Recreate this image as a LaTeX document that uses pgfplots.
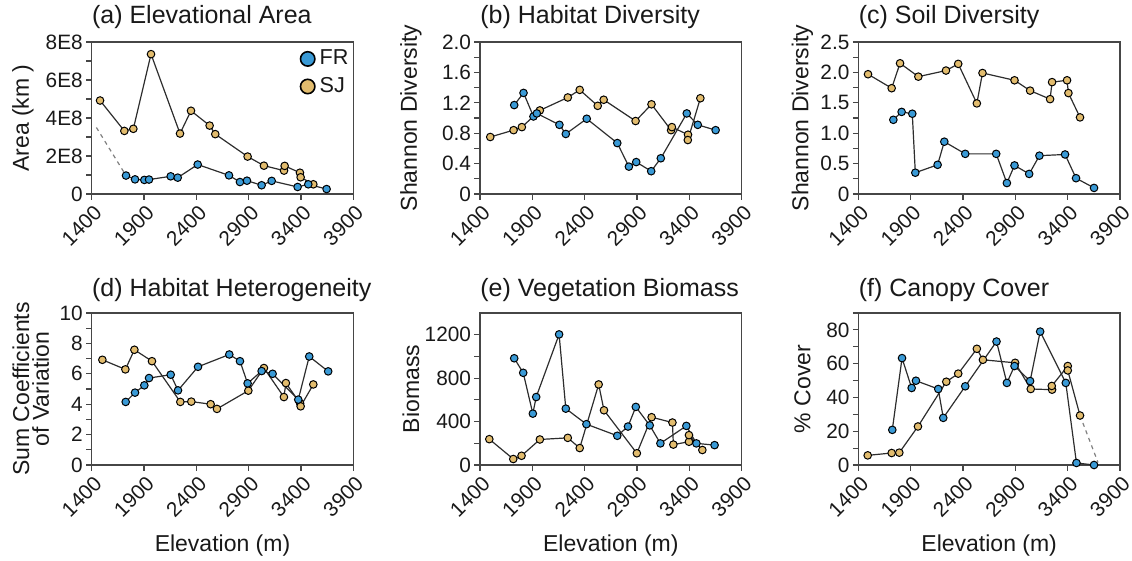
\documentclass[border=0pt]{standalone}
\usepackage{pgfplots}
\pgfplotsset{compat=1.18}
\usepackage{fontspec}
\setmainfont{Liberation Sans}
\definecolor{frblue}{RGB}{58,154,214}
\definecolor{sjtan}{RGB}{226,188,110}
\definecolor{axisgray}{RGB}{70,70,70}
\definecolor{linegray}{RGB}{45,45,45}
\newcommand\ticksize{\fontsize{10.4}{12}\selectfont}
\newcommand\labelsize{\fontsize{11.5}{13}\selectfont}
\newcommand\titlesize{\fontsize{12.5}{15}\selectfont}
\pgfplotsset{
  panel/.style={
    scale only axis, width=130.8pt, height=76pt,
    xmin=1400, xmax=3900,
    xtick={1400,1900,2400,2900,3400,3900},
    xticklabels={1400,1900,2400,2900,3400,3900},
    axis line style={draw=axisgray, line width=0.6pt},
    every tick/.style={draw=axisgray, line width=0.6pt},
    tick align=outside, xtick pos=lower, ytick pos=left,
    major tick length=2.8pt, minor tick length=2.8pt,
    xticklabel style={xshift=4pt, yshift=-4pt, rotate=45, anchor=east, font=\ticksize, inner sep=1pt},
    yticklabel style={font=\ticksize, inner sep=1.5pt},
    title style={at={(axis description cs:0,1)}, anchor=base west, yshift=3pt, font=\titlesize, inner sep=0pt},
    ylabel style={font=\labelsize, anchor=center},
    xlabel style={at={(axis description cs:0.5,-0.533)}, anchor=center, font=\labelsize},
    clip=false,
    scaled y ticks=false,
  },
  fr/.style={color=linegray, line width=0.6pt, mark=*, mark size=1.9pt,
    mark options={fill=frblue, draw=black, line width=0.5pt}},
  sj/.style={color=linegray, line width=0.6pt, mark=*, mark size=1.9pt,
    mark options={fill=sjtan, draw=black, line width=0.5pt}},
  ext/.style={color=gray, line width=0.6pt, dash pattern=on 2pt off 2pt},
}
\begin{document}
\begin{tikzpicture}
\path[use as bounding box] (0,0) rectangle (566pt,280.5pt);
\color[RGB]{25,25,25}
% (a)
\begin{axis}[panel, at={(45.85pt,183.5pt)}, anchor=south west,
  title={(a) Elevational Area},
  ymin=0, ymax=8e8,
  ytick={0,2e8,4e8,6e8,8e8}, yticklabels={0,2E8,4E8,6E8,8E8},
  minor ytick={1e8,3e8,5e8,7e8},
  ylabel={Area (km )},
  ylabel style={at={(axis description cs:-0.2625,0.5)}},
  legend style={at={(axis description cs:1,1)}, anchor=north east, xshift=0.8pt, yshift=-0.8pt,
    draw=none, fill=none, font=\fontsize{10.8}{12}\selectfont, inner sep=1pt, row sep=0.8pt,
    /tikz/every even column/.append style={column sep=3pt}},
  legend cell align=left]
\addlegendimage{legend image code/.code={\draw[fill=frblue, draw=black, line width=0.8pt] (0,0) circle (3.6pt);}}
\addlegendentry{FR}
\addlegendimage{legend image code/.code={\draw[fill=sjtan, draw=black, line width=0.8pt] (0,0) circle (3.6pt);}}
\addlegendentry{SJ}
\addplot[ext, forget plot] coordinates {(1445,3.5e8) (1728,0.97e8)};
\addplot[sj, forget plot] coordinates {(1480,4.92e8) (1712,3.32e8) (1798,3.43e8) (1967,7.36e8) (2244,3.18e8) (2349,4.38e8) (2527,3.60e8) (2581,3.15e8) (2890,1.97e8) (3046,1.49e8) (3238,1.23e8) (3244,1.48e8) (3390,1.12e8) (3397,0.88e8) (3518,0.51e8)};
\addplot[fr, forget plot] coordinates {(1728,0.97e8) (1814,0.77e8) (1903,0.74e8) (1948,0.76e8) (2155,0.93e8) (2222,0.86e8) (2413,1.55e8) (2712,0.98e8) (2817,0.63e8) (2884,0.70e8) (3024,0.46e8) (3120,0.69e8) (3368,0.37e8) (3470,0.51e8) (3645,0.26e8)};
\end{axis}
% (b)
\begin{axis}[panel, at={(240pt,183.5pt)}, anchor=south west,
  title={(b) Habitat Diversity},
  ymin=0, ymax=2,
  ytick={0,0.4,0.8,1.2,1.6,2.0}, yticklabels={0,0.4,0.8,1.2,1.6,2.0},
  minor ytick={0.2,0.6,1.0,1.4,1.8},
  ylabel={Shannon Diversity},
  ylabel style={at={(axis description cs:-0.264,0.5)}}]
\addplot[sj] coordinates {(1498,0.75) (1721,0.84) (1800,0.88) (1972,1.10) (2239,1.27) (2353,1.37) (2525,1.16) (2582,1.24) (2887,0.96) (3039,1.18) (3226,0.84) (3234,0.88) (3388,0.78) (3386,0.71) (3506,1.26)};
\addplot[fr] coordinates {(1727,1.17) (1816,1.33) (1911,1.02) (1943,1.06) (2159,0.91) (2220,0.79) (2420,0.99) (2712,0.67) (2823,0.36) (2893,0.42) (3036,0.30) (3128,0.47) (3376,1.06) (3481,0.91) (3652,0.84)};
\end{axis}
% (c)
\begin{axis}[panel, at={(429.2pt,183.5pt)}, anchor=south west,
  title={(c) Soil Diversity},
  ymin=0, ymax=2.5,
  ytick={0,0.5,1.0,1.5,2.0,2.5}, yticklabels={0,0.5,1.0,1.5,2.0,2.5},
  minor ytick={0.25,0.75,1.25,1.75,2.25},
  ylabel={Shannon Diversity},
  ylabel style={at={(axis description cs:-0.214,0.5)}}]
\addplot[sj] coordinates {(1492,1.97) (1718,1.74) (1798,2.15) (1973,1.93) (2237,2.03) (2354,2.14) (2532,1.49) (2586,1.99) (2892,1.87) (3041,1.70) (3232,1.56) (3251,1.84) (3394,1.87) (3407,1.66) (3518,1.26)};
\addplot[fr] coordinates {(1734,1.22) (1813,1.35) (1915,1.32) (1944,0.35) (2157,0.48) (2221,0.86) (2421,0.66) (2717,0.66) (2819,0.18) (2892,0.47) (3032,0.33) (3130,0.63) (3375,0.65) (3480,0.26) (3652,0.10)};
\end{axis}
% (d)
\begin{axis}[panel, at={(45.85pt,48pt)}, anchor=south west,
  title={(d) Habitat Heterogeneity},
  title style={yshift=-1pt},
  ymin=0, ymax=10,
  ytick={0,2,4,6,8,10}, yticklabels={0,2,4,6,8,10},
  minor ytick={1,3,5,7,9},
  ylabel={Sum Coefficients\\of Variation},
  ylabel style={at={(axis description cs:-0.233,0.5)}, align=center, font=\fontsize{11.5}{9.8}\selectfont},
  xlabel={Elevation (m)}]
\addplot[sj] coordinates {(1502,6.92) (1722,6.29) (1808,7.58) (1976,6.83) (2247,4.15) (2352,4.17) (2537,4.00) (2597,3.69) (2897,4.89) (3046,6.38) (3237,4.47) (3256,5.39) (3392,4.05) (3397,3.86) (3518,5.30)};
\addplot[fr] coordinates {(1725,4.15) (1814,4.76) (1903,5.24) (1948,5.72) (2155,5.94) (2225,4.91) (2416,6.46) (2715,7.27) (2817,6.83) (2890,5.37) (3024,6.18) (3129,6.00) (3374,4.30) (3479,7.14) (3660,6.16)};
\end{axis}
% (e)
\begin{axis}[panel, at={(240pt,48pt)}, anchor=south west,
  title={(e) Vegetation Biomass},
  title style={yshift=-1pt},
  ymin=0, ymax=1400,
  ytick={0,400,800,1200}, yticklabels={0,400,800,1200},
  minor ytick={200,600,1000},
  ylabel={Biomass},
  ylabel style={at={(axis description cs:-0.264,0.5)}},
  xlabel={Elevation (m)}]
\addplot[sj] coordinates {(1489,238) (1718,55) (1797,85) (1972,235) (2239,250) (2353,156) (2534,742) (2585,504) (2899,108) (3040,440) (3239,391) (3248,188) (3397,214) (3397,275) (3525,138)};
\addplot[fr] coordinates {(1727,983) (1813,849) (1905,473) (1937,626) (2156,1203) (2220,519) (2417,376) (2712,269) (2814,354) (2889,535) (3022,365) (3124,199) (3372,360) (3468,199) (3642,183)};
\end{axis}
% (f)
\begin{axis}[panel, at={(429.2pt,48pt)}, anchor=south west,
  title={(f) Canopy Cover},
  title style={yshift=-1pt},
  ymin=0, ymax=90,
  ytick={0,20,40,60,80}, yticklabels={0,20,40,60,80},
  minor ytick={10,30,50,70,90},
  ylabel={\% Cover},
  ylabel style={at={(axis description cs:-0.214,0.5)}},
  xlabel={Elevation (m)}]
\addplot[ext] coordinates {(3518,29.3) (3690,1.5)};
\addplot[sj] coordinates {(1489,5.7) (1718,7.1) (1791,7.3) (1969,22.8) (2240,49.3) (2354,54.1) (2532,68.8) (2590,62.3) (2898,60.5) (3047,45.0) (3251,44.6) (3248,46.8) (3401,58.6) (3401,56.0) (3518,29.3)};
\addplot[fr] coordinates {(1724,20.8) (1817,63.3) (1909,45.6) (1950,49.9) (2163,45.0) (2211,27.9) (2421,46.6) (2720,73.1) (2819,48.6) (2892,58.6) (3041,49.7) (3137,79.0) (3382,48.6) (3484,1.2) (3652,0)};
\end{axis}
\end{tikzpicture}
\end{document}
